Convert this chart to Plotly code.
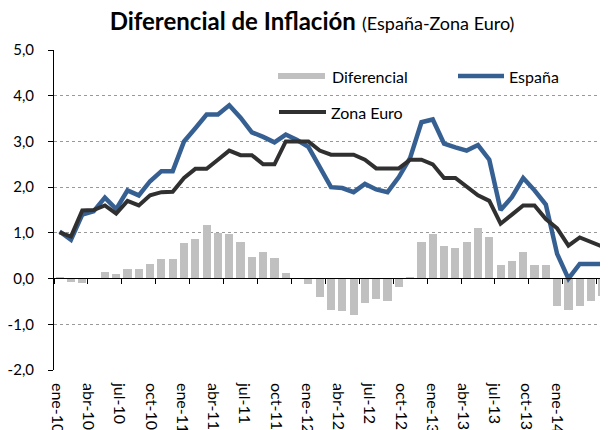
import plotly.graph_objects as go

# ---------------- data ----------------
months = list(range(49))  # ene-10 ... ene-14
tick_labels = ["ene-10", "abr-10", "jul-10", "oct-10", "ene-11", "abr-11", "jul-11", "oct-11",
               "ene-12", "abr-12", "jul-12", "oct-12", "ene-13", "abr-13", "jul-13", "oct-13", "ene-14"]
espana = [1.03, 0.85, 1.4, 1.47, 1.77, 1.52, 1.93, 1.82, 2.13, 2.35, 2.35, 3.0,
          3.29, 3.59, 3.59, 3.79, 3.52, 3.2, 3.1, 2.98, 3.15, 3.03, 2.88, 2.42,
          2.0, 1.98, 1.89, 2.07, 1.95, 1.89, 2.22, 2.64, 3.42, 3.48, 2.95, 2.87,
          2.8, 2.92, 2.6, 1.5, 1.78, 2.2, 1.93, 1.62, 0.54, 0.0, 0.32, 0.32, 0.32]
zona_euro = [1.01, 0.92, 1.49, 1.5, 1.6, 1.42, 1.7, 1.6, 1.82, 1.89, 1.9, 2.2,
             2.4, 2.4, 2.6, 2.8, 2.7, 2.7, 2.5, 2.5, 3.0, 3.0, 3.0, 2.8,
             2.71, 2.71, 2.71, 2.6, 2.41, 2.41, 2.41, 2.6, 2.6, 2.5, 2.2, 2.2,
             2.0, 1.82, 1.7, 1.2, 1.4, 1.6, 1.6, 1.3, 1.1, 0.72, 0.9, 0.8, 0.7]
diferencial = [0.02, -0.07, -0.1, 0.0, 0.15, 0.09, 0.2, 0.2, 0.32, 0.42, 0.42, 0.78,
               0.86, 1.17, 1.0, 0.97, 0.8, 0.48, 0.58, 0.45, 0.13, 0.0, -0.12, -0.41,
               -0.69, -0.72, -0.8, -0.53, -0.45, -0.5, -0.18, 0.04, 0.8, 0.97, 0.72, 0.66,
               0.79, 1.1, 0.9, 0.3, 0.39, 0.59, 0.3, 0.3, -0.59, -0.69, -0.59, -0.5, -0.39]
y_ticks = [5, 4, 3, 2, 1, 0, -1, -2]
y_tick_text = ["5,0", "4,0", "3,0", "2,0", "1,0", "0,0", "-1,0", "-2,0"]

BLUE = "#376092"
DARK = "#303030"
GREY = "#c0c0c0"
FONT = "Lato"

# the page body has an 8px margin: the figure is drawn at (8, 8)
OFF = 8
W, H = 608 - OFF, 430 - OFF
ML, MR, MT, MB = 54 - OFF, 0, 50 - OFF, 60
PW, PH = W - ML - MR, H - MT - MB


def px(x):  # screen x -> paper
    return (x - OFF - ML) / PW


def py(y):  # screen y -> paper
    return (H - MB - (y - OFF)) / PH


fig = go.Figure()
fig.add_trace(go.Bar(x=months, y=diferencial, name="Diferencial", marker_color=GREY,
                     marker_line_width=0, width=0.72))
fig.add_trace(go.Scatter(x=months, y=espana, name="España", mode="lines",
                         line=dict(color=BLUE, width=4.5)))
fig.add_trace(go.Scatter(x=months, y=zona_euro, name="Zona Euro", mode="lines",
                         line=dict(color=DARK, width=4)))

label_pos = [3 * i for i in range(len(tick_labels))]
lab_scale = 10.417  # px per month for the label row
lab_r0 = -(57 - 54) / lab_scale

fig.update_layout(
    width=W, height=H,
    margin=dict(l=ML, r=MR, t=MT, b=MB),
    paper_bgcolor="white", plot_bgcolor="white",
    showlegend=False,
    bargap=0,
    font=dict(family=FONT, color="black", size=16),
    title=dict(
        text="<b>Diferencial de Inflación</b> <span style='font-size:18px'>(España-Zona Euro)</span>",
        x=(312 - OFF) / W, xanchor="center", xref="container",
        y=1 - (22 - OFF) / H, yanchor="middle", yref="container",
        font=dict(family=FONT, size=24, color="black"),
    ),
    xaxis=dict(
        range=[-0.5, 48.5], anchor="free", position=py(278),
        showgrid=False, zeroline=False,
        showline=True, linecolor="black", linewidth=1,
        ticks="outside", ticklen=5, tickcolor="black", tickwidth=1,
        tickvals=[-0.5 + 3 * j for j in range(17)],
        showticklabels=False,
    ),
    xaxis2=dict(
        overlaying="x", anchor="y", side="bottom",
        range=[lab_r0, lab_r0 + PW / lab_scale],
        showgrid=False, zeroline=False, showline=False, ticks="",
        tickvals=label_pos, ticktext=tick_labels, tickangle=90,
        tickfont=dict(family=FONT, size=16, color="black"),
        ticklabelstandoff=12, automargin=False,
    ),
    yaxis=dict(
        range=[-2, 5], tickvals=y_ticks, ticktext=y_tick_text,
        showgrid=True, gridcolor="#999999", griddash="dot", gridwidth=1,
        zeroline=False,
        showline=True, linecolor="black", linewidth=1,
        ticks="outside", ticklen=5, tickcolor="black",
        tickfont=dict(family=FONT, size=15, color="black"),
        ticklabelstandoff=11, automargin=False,
    ),
)

# invisible trace to make xaxis2 render
fig.add_trace(go.Scatter(x=[0], y=[None], xaxis="x2", showlegend=False, hoverinfo="skip"))

# manual legend (Excel-like wide swatches)
fig.add_shape(type="rect", xref="paper", yref="paper",
              x0=px(278), x1=px(325), y0=py(79), y1=py(73),
              fillcolor=GREY, line_width=0)
fig.add_shape(type="line", xref="paper", yref="paper",
              x0=px(458), x1=px(504), y0=py(76), y1=py(76),
              line=dict(color=BLUE, width=4.5))
fig.add_shape(type="line", xref="paper", yref="paper",
              x0=px(279), x1=px(326), y0=py(112), y1=py(112),
              line=dict(color=DARK, width=4))
for txt, x, y in [("Diferencial", 330, 76), ("España", 507, 76), ("Zona Euro", 329, 112)]:
    fig.add_annotation(text=txt, xref="paper", yref="paper", x=px(x), y=py(y),
                       xanchor="left", yanchor="middle", showarrow=False,
                       font=dict(family=FONT, size=16, color="black"))

fig.write_html("out.html")
